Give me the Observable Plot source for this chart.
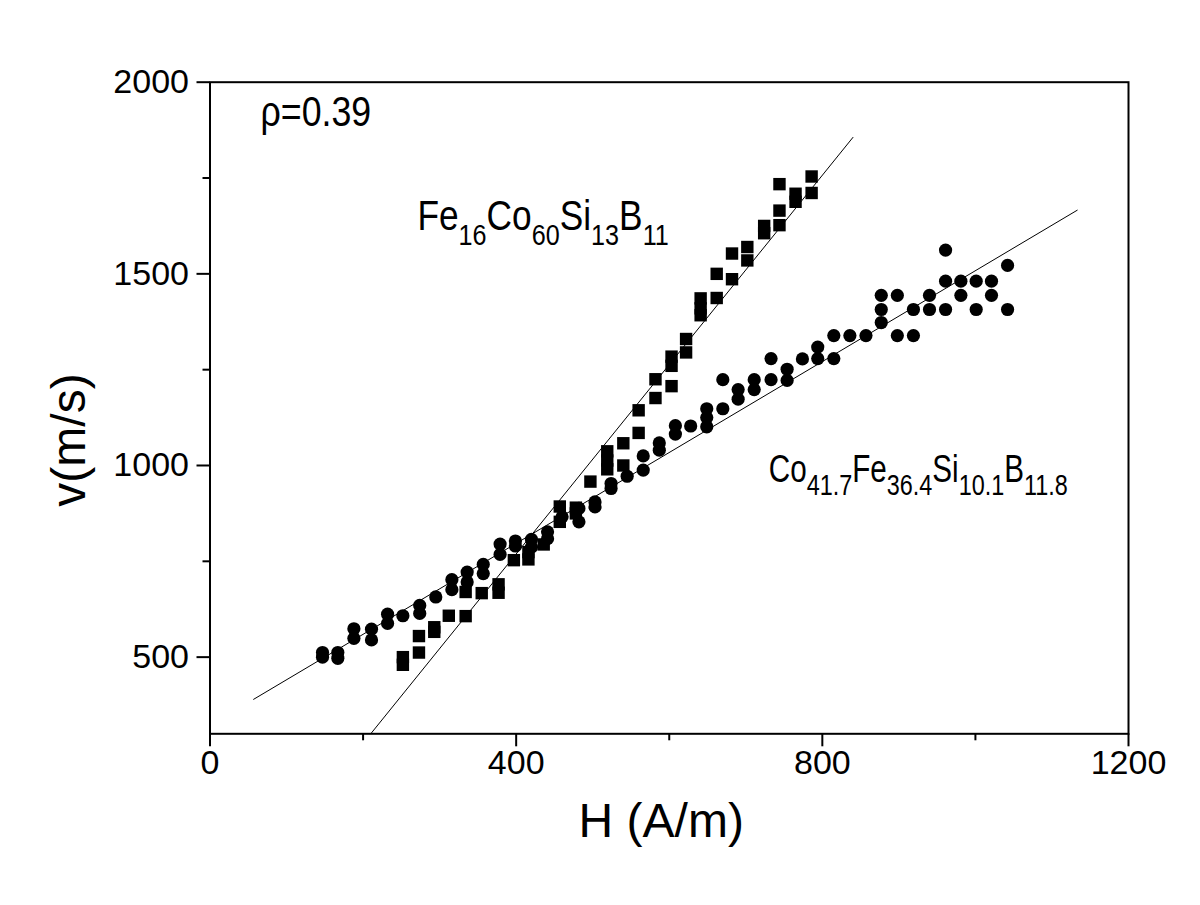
<!DOCTYPE html>
<html><head><meta charset="utf-8">
<script src="https://cdn.jsdelivr.net/npm/d3@7"></script>
<script src="https://cdn.jsdelivr.net/npm/@observablehq/plot@0.6"></script>
<style>body{margin:0;background:#fff} #chart svg{display:block}</style>
</head><body><div id="chart"></div>
<script>
// Co41.7Fe36.4Si10.1B11.8 (circles): H (A/m) and v (m/s)
const coH = [147,147,167,167,188,188,211,211,232,232,252,274,274,295,316,316,336,336,357,357,379,379,399,399,420,420,441,441,460,482,482,503,503,524,524,545,566,566,587,587,608,608,628,649,649,649,670,670,690,690,711,711,733,733,754,754,774,794,794,815,815,836,857,877,877,877,898,898,919,919,940,940,961,961,961,981,981,1001,1001,1021,1021,1042,1042];
const coV = [500,512,497,512,549,574,545,573,588,612,608,614,635,657,676,702,696,722,718,742,768,795,790,803,787,807,809,827,866,853,888,892,905,940,953,972,988,1025,1040,1059,1082,1104,1103,1101,1125,1148,1148,1224,1173,1198,1198,1224,1224,1279,1222,1251,1278,1279,1309,1279,1339,1339,1339,1373,1407,1444,1339,1444,1339,1407,1407,1444,1407,1481,1562,1444,1481,1407,1481,1444,1481,1407,1522];
// Fe16Co60Si13B11 (squares)
const feH = [252,252,273,273,293,293,312,334,334,355,377,377,397,416,416,436,457,457,478,478,497,519,519,519,540,540,560,560,582,582,603,603,603,622,622,641,641,641,662,662,682,682,702,702,724,724,744,744,744,765,765,786,786];
const feV = [480,500,512,555,566,578,608,607,670,667,668,690,753,755,774,794,853,893,875,890,958,990,1013,1037,1000,1058,1085,1144,1176,1225,1207,1260,1284,1295,1330,1392,1410,1436,1437,1500,1486,1553,1535,1570,1606,1625,1627,1665,1734,1688,1709,1711,1754];
// linear fits
const fitCoH = [57, 1133], fitCoV = [390, 1666];
const fitFeH = [210, 840], fitFeV = [300, 1856];
// ticks
const xTicks = [0, 400, 800, 1200], xMinor = [200, 600, 1000];
const yTicks = [500, 1000, 1500, 2000], yMinor = [750, 1250, 1750];
// texts
const labelFe = [["Fe","16"],["Co","60"],["Si","13"],["B","11"]];
const labelCo = [["Co","41.7"],["Fe","36.4"],["Si","10.1"],["B","11.8"]];
const rhoText = "ρ=0.39";
const xTitle = "H (A/m)", yTitle = "v(m/s)";

const co = coH.map((h, i) => ({h, v: coV[i]}));
const fe = feH.map((h, i) => ({h, v: feV[i]}));
const fitCo = fitCoH.map((h, i) => ({h, v: fitCoV[i]}));
const fitFe = fitFeH.map((h, i) => ({h, v: fitFeV[i]}));
const plain = parts => parts.map(p => p.join("")).join("");

const plot = Plot.plot({
  width: 1200, height: 905,
  marginLeft: 209.5, marginRight: 72, marginTop: 81.7, marginBottom: 171.7,
  style: {fontFamily: "'Liberation Sans', Arial, sans-serif", background: "white", color: "black"},
  x: {domain: [0, 1200]},
  y: {domain: [300, 2000]},
  marks: [
    Plot.frame({stroke: "black", strokeWidth: 2}),
    Plot.axisX({ticks: xTicks, tickSize: 13, tickPadding: 3, fontSize: 34, strokeWidth: 2, tickFormat: d => String(d), label: null}),
    Plot.axisX({ticks: xMinor, tickSize: 7, strokeWidth: 2, tickFormat: () => "", label: null}),
    Plot.axisY({ticks: yTicks, tickSize: 13, tickPadding: 8, fontSize: 34, strokeWidth: 2, tickFormat: d => String(d), label: null}),
    Plot.axisY({ticks: yMinor, tickSize: 7, strokeWidth: 2, tickFormat: () => "", label: null}),
    Plot.line(fitCo, {x: "h", y: "v", stroke: "black", strokeWidth: 1}),
    Plot.line(fitFe, {x: "h", y: "v", stroke: "black", strokeWidth: 1}),
    Plot.dot(co, {x: "h", y: "v", r: 6.6, fill: "black", stroke: "none"}),
    Plot.dot(fe, {x: "h", y: "v", r: 7, symbol: "square", fill: "black", stroke: "none"}),
    Plot.text([rhoText], {x: 66, y: 1887, text: d => d, textAnchor: "start", lineAnchor: "bottom", fontSize: 42, fill: "black"}),
    Plot.text([plain(labelFe)], {x: 271, y: 1615, text: d => d, textAnchor: "start", lineAnchor: "bottom", fontSize: 42, fill: "black"}),
    Plot.text([plain(labelCo)], {x: 730, y: 957, text: d => d, textAnchor: "start", lineAnchor: "bottom", fontSize: 38, fill: "black"}),
    Plot.text([xTitle], {frameAnchor: "bottom", dx: -8, dy: 103, text: d => d, textAnchor: "middle", lineAnchor: "bottom", fontSize: 48, fill: "black"}),
    Plot.text([yTitle], {frameAnchor: "left", dx: -140, dy: 32, rotate: -90, text: d => d, textAnchor: "middle", lineAnchor: "middle", fontSize: 48, fill: "black"})
  ]
});

const NS = "http://www.w3.org/2000/svg";
const textsWith = s => Array.from(plot.querySelectorAll("text")).filter(t => t.textContent === s);
function squeeze(t, k) {
  const tr = t.getAttribute("transform");
  if (tr) t.setAttribute("transform", tr + ` scale(${k},1)`);
  else {
    const x = +t.getAttribute("x") || 0, y = +t.getAttribute("y") || 0;
    t.removeAttribute("x"); t.removeAttribute("y");
    t.setAttribute("transform", `translate(${x},${y}) scale(${k},1)`);
  }
}
function formula(parts, mainSize, subSize, shift, k) {
  textsWith(plain(parts)).forEach(t => {
    t.textContent = "";
    parts.forEach(([el, n], i) => {
      const a = document.createElementNS(NS, "tspan");
      a.setAttribute("font-size", mainSize);
      if (i > 0) a.setAttribute("dy", -shift);
      a.textContent = el;
      t.appendChild(a);
      const b = document.createElementNS(NS, "tspan");
      b.setAttribute("font-size", subSize);
      b.setAttribute("dy", shift);
      b.textContent = n;
      t.appendChild(b);
    });
    squeeze(t, k);
  });
}
formula(labelFe, 42, 30, 15, 0.84);
formula(labelCo, 38, 30, 13, 0.78);
textsWith(rhoText).forEach(t => squeeze(t, 0.85));

document.getElementById("chart").appendChild(plot);
</script>
</body></html>
